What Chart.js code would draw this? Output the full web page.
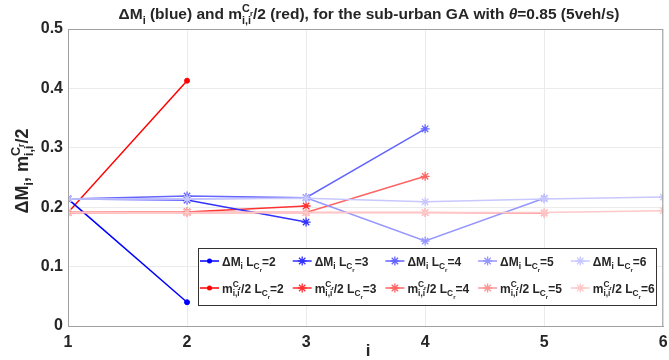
<!DOCTYPE html>
<html>
<head>
<meta charset="utf-8">
<script src="https://cdn.jsdelivr.net/npm/chart.js@4/dist/chart.umd.min.js"></script>
<style>
  html, body { margin: 0; padding: 0; background: #fff; }
  canvas { display: block; }
</style>
</head>
<body>
<canvas id="chart" width="669" height="360"></canvas>
<script>
// x positions (i) and tick labels
const iVals = [1, 2, 3, 4, 5, 6];
const yTicks = [0, 0.1, 0.2, 0.3, 0.4, 0.5];
const routeLens = [2, 3, 4, 5, 6];

// delta M_i (blue), one list per L_Cr
const dM2 = [0.214, 0.040];
const dM3 = [0.214, 0.212, 0.175];
const dM4 = [0.214, 0.219, 0.216, 0.332];
const dM5 = [0.214, 0.214, 0.216, 0.143, 0.215];
const dM6 = [0.214, 0.214, 0.215, 0.209, 0.214, 0.217];

// m_ii^Cr / 2 (red)
const mC2 = [0.191, 0.413];
const mC3 = [0.191, 0.192, 0.202];
const mC4 = [0.191, 0.191, 0.191, 0.252];
const mC5 = [0.191, 0.191, 0.191, 0.191, 0.190];
const mC6 = [0.191, 0.191, 0.191, 0.191, 0.191, 0.194];

const blues = ['rgb(0,0,255)', 'rgb(50,50,255)', 'rgb(100,100,255)', 'rgb(150,150,255)', 'rgb(200,200,255)'];
const reds = ['rgb(255,0,0)', 'rgb(255,50,50)', 'rgb(255,100,100)', 'rgb(255,150,150)', 'rgb(255,200,200)'];

const FONT = '"Liberation Sans", Arial, sans-serif';
const TXT = '#262626';

function pts(arr) {
  return arr.map((v, k) => ({ x: iVals[k], y: v }));
}

function makeSet(arr, color, k) {
  return {
    data: pts(arr),
    borderColor: color,
    backgroundColor: color,
    borderWidth: 1.5,
    pointStyle: k === 0 ? 'circle' : 'star',
    pointRadius: k === 0 ? 2.5 : 4.5,
    pointBorderWidth: k === 0 ? 1 : 1.3,
    tension: 0,
    order: 10 - k
  };
}

const blueSeries = [dM2, dM3, dM4, dM5, dM6];
const redSeries = [mC2, mC3, mC4, mC5, mC6];
const datasets = [];
blueSeries.forEach((s, k) => datasets.push(makeSet(s, blues[k], k)));
redSeries.forEach((s, k) => datasets.push(makeSet(s, reds[k], k)));

// draws text with sub/superscripts; parts: {t, f: size factor, dy: shift factor, it, mark, back}
function layoutRich(ctx, parts, base, draw, x0, y0) {
  let x = x0, markX = x0, maxX = x0;
  parts.forEach(p => {
    const f = p.f || 1;
    ctx.font = (p.it ? 'italic ' : '') + 'bold ' + (base * f) + 'px ' + FONT;
    if (p.back) x = markX;
    if (p.mark) markX = x;
    if (draw) ctx.fillText(p.t, x, y0 + (p.dy || 0) * base);
    x += ctx.measureText(p.t).width;
    if (p.back) x = Math.max(x, maxX);
    maxX = Math.max(maxX, x);
  });
  return maxX - x0;
}
function drawRich(ctx, parts, x, y, base, align) {
  ctx.textAlign = 'left';
  ctx.textBaseline = 'alphabetic';
  const w = layoutRich(ctx, parts, base, false, 0, 0);
  const sx = align === 'center' ? x - w / 2 : x;
  layoutRich(ctx, parts, base, true, sx, y);
}

const mPart = [
  { t: 'm' },
  { t: 'C', f: 0.7, dy: -0.45, mark: true },
  { t: 'r', f: 0.5, dy: -0.2 },
  { t: 'i,i', f: 0.7, dy: 0.3, back: true }
];
const titleParts = [
  { t: '\u0394M' }, { t: 'i', f: 0.7, dy: 0.3 }, { t: ' (blue) and ' }
].concat(mPart, [
  { t: '/2 (red), for the sub-urban GA with ' },
  { t: '\u03b8', it: true },
  { t: '=0.85 (5veh/s)' }
]);
const yLabelParts = [
  { t: '\u0394M' }, { t: 'i', f: 0.7, dy: 0.3 }, { t: ', ' }
].concat(mPart, [{ t: '/2' }]);

function lcrParts(n) {
  return [{ t: ' L' }, { t: 'C', f: 0.7, dy: 0.3 }, { t: 'r', f: 0.5, dy: 0.55 }, { t: '=' + n }];
}

function drawMarker(ctx, style, x, y, r, color) {
  ctx.strokeStyle = color;
  ctx.fillStyle = color;
  if (style === 'circle') {
    ctx.beginPath();
    ctx.arc(x, y, r, 0, Math.PI * 2);
    ctx.fill();
    return;
  }
  ctx.lineWidth = 1.3;
  ctx.beginPath();
  for (let a = 0; a < 4; a++) {
    const ang = a * Math.PI / 4;
    ctx.moveTo(x - r * Math.cos(ang), y - r * Math.sin(ang));
    ctx.lineTo(x + r * Math.cos(ang), y + r * Math.sin(ang));
  }
  ctx.stroke();
}

const decor = {
  id: 'decor',
  afterDraw(chart) {
    const ctx = chart.ctx;
    const a = chart.chartArea;
    ctx.save();

    // box around axes
    ctx.strokeStyle = '#a0a0a0';
    ctx.lineWidth = 1;
    ctx.strokeRect(a.left + 0.5, a.top + 0.5, a.right - a.left - 1, a.bottom - a.top);

    // title
    ctx.fillStyle = TXT;
    drawRich(ctx, titleParts, 369, 19, 15.5, 'center');

    // x label
    drawRich(ctx, [{ t: 'i' }], 368, 356, 17, 'center');

    // y label
    ctx.save();
    ctx.translate(28, 171);
    ctx.rotate(-Math.PI / 2);
    drawRich(ctx, yLabelParts, 0, 0, 18, 'center');
    ctx.restore();

    // legend
    const lx = 198.5, ly = 248.5, lw = 458, lh = 57;
    ctx.fillStyle = '#fff';
    ctx.fillRect(lx, ly, lw, lh);
    ctx.strokeStyle = '#333';
    ctx.lineWidth = 1;
    ctx.strokeRect(lx, ly, lw, lh);
    const colW = 92.7;
    const rows = [
      { y: 261, colors: blues, label: n => [{ t: '\u0394M' }, { t: 'i', f: 0.7, dy: 0.3 }].concat(lcrParts(n)) },
      { y: 288, colors: reds, label: n => mPart.concat([{ t: '/2' }], lcrParts(n)) }
    ];
    rows.forEach(row => {
      routeLens.forEach((n, k) => {
        const x0 = lx + 1.5 + k * colW;
        ctx.strokeStyle = row.colors[k];
        ctx.lineWidth = 1.5;
        ctx.beginPath();
        ctx.moveTo(x0, row.y);
        ctx.lineTo(x0 + 19, row.y);
        ctx.stroke();
        drawMarker(ctx, k === 0 ? 'circle' : 'star', x0 + 9.5, row.y, k === 0 ? 2.5 : 4.5, row.colors[k]);
        ctx.fillStyle = TXT;
        drawRich(ctx, row.label(n), x0 + 22, row.y + 4.5, 12, 'left');
      });
    });
    ctx.restore();
  }
};

new Chart(document.getElementById('chart'), {
  type: 'line',
  data: { datasets: datasets },
  options: {
    responsive: false,
    animation: false,
    layout: { padding: { top: 29, right: 1, left: 0, bottom: 0 } },
    plugins: {
      legend: { display: false },
      title: { display: false },
      tooltip: { enabled: false }
    },
    scales: {
      x: {
        type: 'linear',
        min: 1,
        max: 6,
        ticks: {
          stepSize: 1,
          color: TXT,
          padding: 7,
          font: { family: FONT, size: 16, weight: 'bold' }
        },
        grid: { color: '#ebebeb', drawTicks: false },
        border: { color: '#a0a0a0' },
        afterFit(s) { s.height = 34; s.paddingLeft = 0; s.paddingRight = 0; }
      },
      y: {
        min: 0,
        max: 0.5,
        afterBuildTicks(s) { s.ticks = yTicks.map(v => ({ value: v })); },
        ticks: {
          color: TXT,
          padding: 5,
          font: { family: FONT, size: 16, weight: 'bold' },
          callback: v => (v === 0 ? '0' : v.toFixed(1))
        },
        grid: { color: '#ebebeb', drawTicks: false },
        border: { color: '#a0a0a0' },
        afterFit(s) { s.width = 68; s.paddingTop = 0; s.paddingBottom = 0; }
      }
    }
  },
  plugins: [decor]
});
</script>
</body>
</html>
